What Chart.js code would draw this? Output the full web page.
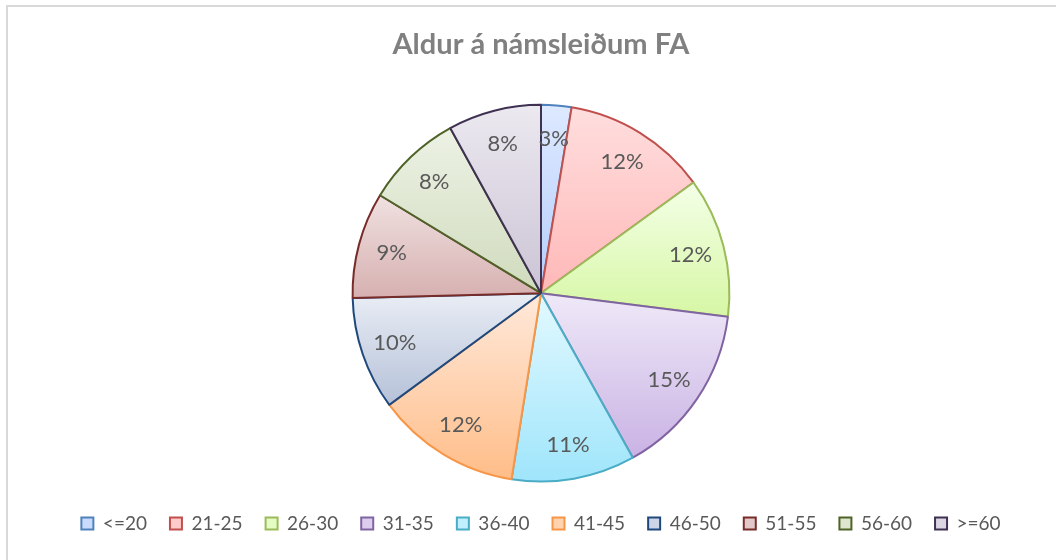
<!DOCTYPE html>
<html>
<head>
<meta charset="utf-8">
<script src="https://cdn.jsdelivr.net/npm/chart.js@4"></script>
<style>
    html, body { margin: 0; padding: 0; background: #ffffff; overflow: hidden; }
    #frame { position: absolute; left: 6px; top: 5px; width: 1100px; height: 600px; border: 2px solid #d9d9d9; }
    #wrap { position: absolute; left: 0; top: 0; width: 1056px; height: 560px; }
</style>
</head>
<body>
<div id="frame"></div>
<div id="wrap"><canvas id="ageChart" width="1056" height="560"></canvas></div>
<script>
// Age groups and share of students (%)
const ageGroups = ['<=20', '21-25', '26-30', '31-35', '36-40', '41-45', '46-50', '51-55', '56-60', '>=60'];
const shares = [2.6, 12.4, 12.0, 14.9, 10.6, 12.4, 9.7, 9.1, 8.3, 8.0];

// Slice colours: gradient top, gradient bottom, outline
const topColors = ['#dde9ff', '#ffdede', '#f4ffe8', '#efe9f8', '#e3f9ff', '#ffe9db', '#e9edf5', '#f0e1e1', '#edf2e5', '#ece9f0'];
const bottomColors = ['#b6cefb', '#ffb8b8', '#d6f7a4', '#c9b2e4', '#9fe5fb', '#ffbd88', '#b5c1d8', '#d7b0b0', '#d0dbbd', '#cbc4d5'];
const legendFill = ['#c8dbfd', '#ffcaca', '#e4fbc4', '#dccdee', '#c0effd', '#ffd2b0', '#cdd5e6', '#e2c8c8', '#dee6d0', '#dcd6e2'];
const borderColors = ['#4f81bd', '#c0504d', '#9bbb59', '#8064a2', '#4bacc6', '#f79646', '#1f497d', '#772c2a', '#4f6228', '#3f3151'];

const total = shares.reduce((a, b) => a + b, 0);

// vertical gradient over each slice's own bounding box
function sliceGradient(ctx) {
    const chart = ctx.chart;
    const area = chart.chartArea;
    const i = ctx.dataIndex;
    if (!area || i === undefined) return topColors[i] || '#ccc';
    const cx = (area.left + area.right) / 2;
    const cy = (area.top + area.bottom) / 2;
    const r = Math.min(area.right - area.left, area.bottom - area.top) / 2;
    let before = 0;
    for (let k = 0; k < i; k++) before += shares[k];
    const a0 = -Math.PI / 2 + before / total * 2 * Math.PI;
    const a1 = a0 + shares[i] / total * 2 * Math.PI;
    const ys = [cy, cy + r * Math.sin(a0), cy + r * Math.sin(a1)];
    const inRange = a => (a >= a0 && a <= a1) || (a + 2 * Math.PI >= a0 && a + 2 * Math.PI <= a1);
    if (inRange(-Math.PI / 2)) ys.push(cy - r);
    if (inRange(Math.PI / 2)) ys.push(cy + r);
    const y0 = Math.min(...ys), y1 = Math.max(...ys);
    const g = chart.ctx.createLinearGradient(0, y0, 0, y1 + 0.01);
    g.addColorStop(0, topColors[i]);
    g.addColorStop(1, bottomColors[i]);
    return g;
}

// percentage labels inside slices
const sliceLabels = {
    id: 'sliceLabels',
    afterDatasetsDraw(chart) {
        const c = chart.ctx;
        const meta = chart.getDatasetMeta(0);
        c.save();
        c.font = '22px Lato';
        c.fillStyle = '#595959';
        c.textAlign = 'center';
        c.textBaseline = 'middle';
        meta.data.forEach((arc, i) => {
            const mid = (arc.startAngle + arc.endAngle) / 2;
            const d = arc.outerRadius * 0.82;
            const txt = Math.round(shares[i] / total * 100) + '%';
            c.fillText(txt, arc.x + Math.cos(mid) * d, arc.y + Math.sin(mid) * d);
        });
        c.restore();
    }
};

new Chart(document.getElementById('ageChart'), {
    type: 'pie',
    data: {
        labels: ageGroups,
        datasets: [{
            data: shares,
            backgroundColor: sliceGradient,
            borderColor: borderColors,
            borderWidth: 2
        }]
    },
    options: {
        responsive: false,
        animation: false,
        layout: { padding: { top: 0, bottom: 17, left: 26, right: 0 } },
        plugins: {
            title: {
                display: true,
                text: 'Aldur á námsleiðum FA',
                color: '#808080',
                font: { family: 'Lato', size: 29, weight: 'bold' },
                padding: { top: 27, bottom: 42 }
            },
            legend: {
                position: 'bottom',
                title: {
                    display: true,
                    text: '',
                    font: { size: 7 },
                    padding: { top: 0, bottom: 0 }
                },
                labels: {
                    color: '#595959',
                    font: { family: 'Lato', size: 19 },
                    boxWidth: 12,
                    boxHeight: 12,
                    padding: 23,
                    generateLabels(chart) {
                        return ageGroups.map((name, i) => ({
                            text: name,
                            fillStyle: legendFill[i],
                            strokeStyle: borderColors[i],
                            lineWidth: 2,
                            fontColor: '#595959',
                            index: i
                        }));
                    }
                }
            },
            tooltip: { enabled: false }
        }
    },
    plugins: [sliceLabels]
});
</script>
</body>
</html>
